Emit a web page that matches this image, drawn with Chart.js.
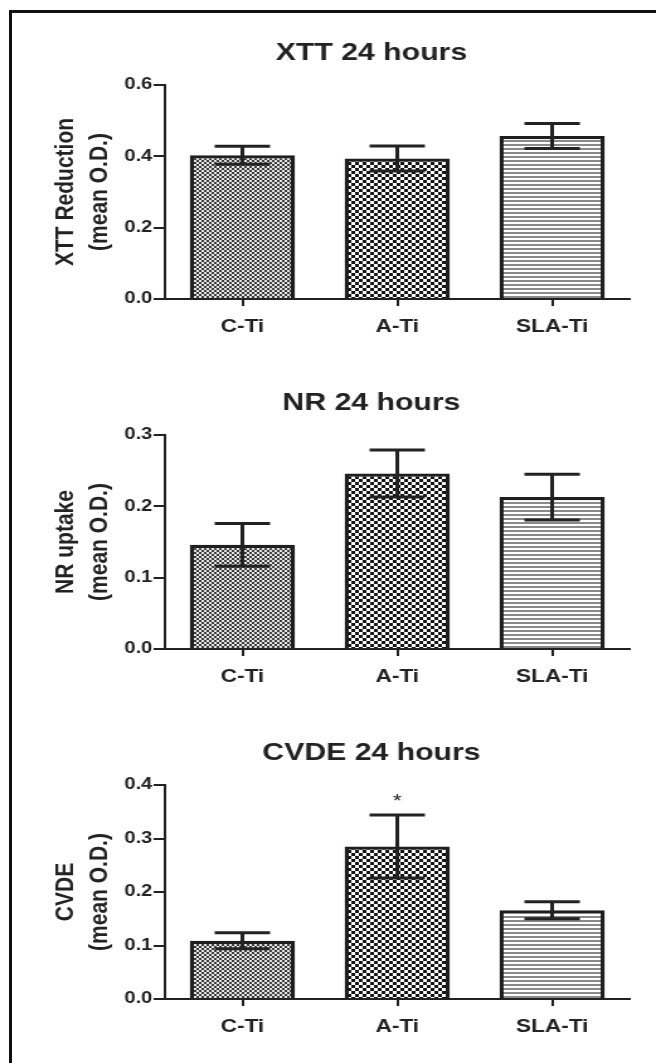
<!DOCTYPE html>
<html>
<head>
<meta charset="utf-8">
<script src="https://cdn.jsdelivr.net/npm/chart.js@4.4.1/dist/chart.umd.min.js"></script>
<style>
  body { margin: 0; background: #fff; width: 656px; height: 1063px; overflow: hidden; position: relative; }
  .frame { position: absolute; left: 9px; top: 10px; width: 700px; height: 1100px; border-left: 3px solid #111; border-top: 3px solid #111; }
  canvas { position: absolute; left: 0; transform-origin: 0 0; transform: scaleX(1.2591); }
</style>
</head>
<body>
<div class="frame"></div>
<canvas id="xtt" width="521" height="350" style="top:0px"></canvas>
<canvas id="nr" width="521" height="350" style="top:350px"></canvas>
<canvas id="cvde" width="521" height="350" style="top:700px"></canvas>
<script>
// values (mean +/- error)
const categories = ['C-Ti', 'A-Ti', 'SLA-Ti'];

const xttMean = [0.403, 0.394, 0.457];
const xttErr = [0.025, 0.035, 0.035];
const xttTicks = { max: 0.6, step: 0.2 };

const nrMean = [0.146, 0.246, 0.213];
const nrErr = [0.030, 0.033, 0.032];
const nrTicks = { max: 0.3, step: 0.1 };

const cvdeMean = [0.109, 0.285, 0.166];
const cvdeErr = [0.015, 0.059, 0.016];
const cvdeTicks = { max: 0.4, step: 0.1 };
const cvdeMarks = ['', '*', ''];

const ink = '#222';
const narrow = "'Liberation Sans Narrow', 'Liberation Sans', Arial, sans-serif";
const sans = "'Liberation Sans', Arial, sans-serif";

// fill patterns for the three bars
function makePattern(kind){
    const c = document.createElement('canvas');
    const g = c.getContext('2d');
    if(kind === 'fine'){
        c.width = 4; c.height = 4;
        g.fillStyle = '#e6e6e6'; g.fillRect(0, 0, 4, 4);
        g.fillStyle = '#3c3c3c';
        g.fillRect(0, 0, 2, 2); g.fillRect(2, 2, 2, 2);
    } else if(kind === 'check'){
        c.width = 6; c.height = 6;
        g.fillStyle = '#fff'; g.fillRect(0, 0, 6, 6);
        g.fillStyle = '#151515';
        g.fillRect(0, 0, 3, 3); g.fillRect(3, 3, 3, 3);
    } else {
        c.width = 4; c.height = 4;
        g.fillStyle = '#fff'; g.fillRect(0, 0, 4, 4);
        g.fillStyle = '#8a8a8a'; g.fillRect(0, 0, 4, 2);
    }
    return g.createPattern(c, 'repeat');
}
const fills = [makePattern('fine'), makePattern('check'), makePattern('lines')];

const errorBars = {
    id: 'errorBars',
    afterDatasetsDraw(chart){
        const ctx = chart.ctx;
        const y = chart.scales.y;
        const ds = chart.data.datasets[0];
        const meta = chart.getDatasetMeta(0);
        ctx.save();
        ctx.strokeStyle = ink;
        ctx.lineWidth = 3;
        meta.data.forEach((bar, i) => {
            const hi = y.getPixelForValue(ds.data[i] + ds.err[i]);
            const lo = y.getPixelForValue(ds.data[i] - ds.err[i]);
            const w = 22;
            ctx.beginPath();
            ctx.moveTo(bar.x, hi); ctx.lineTo(bar.x, lo);
            ctx.moveTo(bar.x - w, hi); ctx.lineTo(bar.x + w, hi);
            ctx.moveTo(bar.x - w, lo); ctx.lineTo(bar.x + w, lo);
            ctx.stroke();
            if(ds.marks && ds.marks[i]){
                ctx.fillStyle = ink;
                ctx.font = '18px ' + sans;
                ctx.textAlign = 'center';
                ctx.textBaseline = 'alphabetic';
                ctx.fillText(ds.marks[i], bar.x, hi - 8);
            }
        });
        ctx.restore();
    }
};

function drawPanel(id, title, yTitle, mean, err, ticks, marks){
    const ctx = document.getElementById(id).getContext('2d');
    return new Chart(ctx, {
        type: 'bar',
        data: {
            labels: categories,
            datasets: [{
                data: mean,
                err: err,
                marks: marks,
                backgroundColor: fills,
                borderColor: '#1e1e1e',
                borderWidth: 3.3,
                barPercentage: 0.68,
                categoryPercentage: 1
            }]
        },
        options: {
            responsive: false,
            animation: false,
            layout: { padding: { left: 90, right: 21, top: 0, bottom: 0 } },
            plugins: {
                legend: { display: false },
                tooltip: { enabled: false },
                title: {
                    display: true,
                    text: title,
                    color: ink,
                    font: { family: sans, size: 24, weight: 'bold' },
                    padding: { top: 38.6, bottom: 17.6 }
                }
            },
            scales: {
                x: {
                    offset: true,
                    afterFit: (s) => { s.height = 51; },
                    grid: { offset: false, drawOnChartArea: false, tickLength: 7, color: ink, lineWidth: 2 },
                    border: { color: ink, width: 2 },
                    ticks: { color: ink, padding: 10, font: { family: narrow, size: 18, weight: 'bold' } }
                },
                y: {
                    min: 0,
                    max: ticks.max,
                    afterFit: (s) => { s.width = 41; },
                    grid: { drawOnChartArea: false, tickLength: 9, color: ink, lineWidth: 2 },
                    border: { color: ink, width: 2 },
                    ticks: {
                        stepSize: ticks.step,
                        padding: 1,
                        color: ink,
                        font: { family: sans, size: 16, weight: 'bold' },
                        callback: (v) => v.toFixed(1)
                    },
                    title: {
                        display: true,
                        text: yTitle,
                        color: ink,
                        font: { family: narrow, size: 21, weight: 'bold', lineHeight: 1.3 },
                        padding: { top: -51.65, bottom: 0 }
                    }
                }
            }
        },
        plugins: [errorBars]
    });
}

drawPanel('xtt', 'XTT 24 hours', ['XTT Reduction', '(mean O.D.)'], xttMean, xttErr, xttTicks, null);
drawPanel('nr', 'NR 24 hours', ['NR uptake', '(mean O.D.)'], nrMean, nrErr, nrTicks, null);
drawPanel('cvde', 'CVDE 24 hours', ['CVDE', '(mean O.D.)'], cvdeMean, cvdeErr, cvdeTicks, cvdeMarks);
</script>
</body>
</html>
